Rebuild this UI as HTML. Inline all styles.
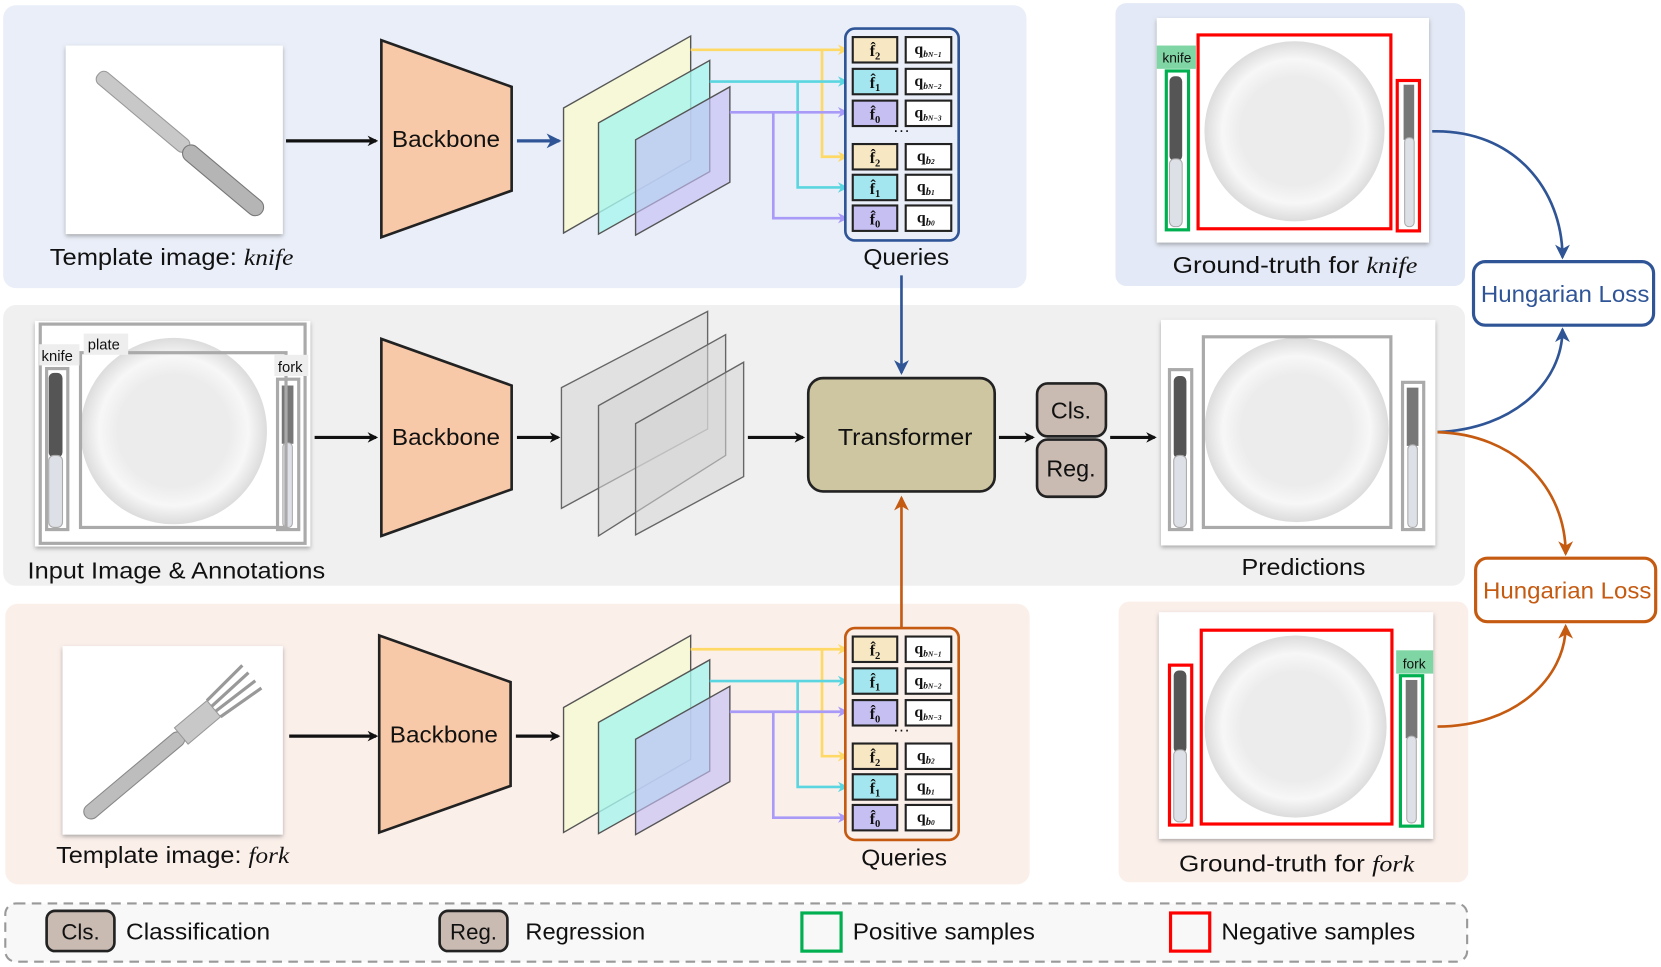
<!DOCTYPE html>
<html><head><meta charset="utf-8"><style>
html,body{margin:0;padding:0;background:#fff;}
svg{display:block;}
text{font-family:"Liberation Sans",sans-serif;fill:#111;}
.s{font-family:"Liberation Serif",serif;font-weight:bold;}
</style></head><body>
<svg width="1661" height="967" viewBox="0 0 1568 913" preserveAspectRatio="none" xmlns="http://www.w3.org/2000/svg">
<defs>
<marker id="ak" markerWidth="10" markerHeight="10" refX="8" refY="5" orient="auto" markerUnits="userSpaceOnUse"><path d="M0,0 L10,5 L0,10 L3,5z" fill="#111"/></marker>
<marker id="ab" markerWidth="14" markerHeight="14" refX="12" refY="7" orient="auto" markerUnits="userSpaceOnUse"><path d="M0,0 L14,7 L0,14 L4,7z" fill="#2f5597"/></marker>
<marker id="ao" markerWidth="14" markerHeight="14" refX="12" refY="7" orient="auto" markerUnits="userSpaceOnUse"><path d="M0,0 L14,7 L0,14 L4,7z" fill="#c55a11"/></marker>
<marker id="ay" markerWidth="10" markerHeight="10" refX="9" refY="5" orient="auto" markerUnits="userSpaceOnUse"><path d="M0,0 L10,5 L0,10 L3,5z" fill="#ffd966"/></marker>
<marker id="ac" markerWidth="10" markerHeight="10" refX="9" refY="5" orient="auto" markerUnits="userSpaceOnUse"><path d="M0,0 L10,5 L0,10 L3,5z" fill="#5bd6e0"/></marker>
<marker id="ap" markerWidth="10" markerHeight="10" refX="9" refY="5" orient="auto" markerUnits="userSpaceOnUse"><path d="M0,0 L10,5 L0,10 L3,5z" fill="#a99af7"/></marker>
<filter id="sh" x="-10%" y="-10%" width="120%" height="120%"><feDropShadow dx="0" dy="2" stdDeviation="2" flood-color="#777" flood-opacity="0.6"/></filter>
<radialGradient id="pg" cx="50%" cy="50%" r="50%"><stop offset="0.6" stop-color="#ececec"/><stop offset="0.8" stop-color="#f7f7f7"/><stop offset="1" stop-color="#dcdcdc"/></radialGradient>
</defs>

<!-- panels -->
<rect x="3" y="5" width="966" height="267" rx="12" fill="#e9eef8"/>
<rect x="1053" y="3" width="330" height="267" rx="10" fill="#e3e9f6"/>
<rect x="3" y="288" width="1380" height="265" rx="12" fill="#f0f0f0"/>
<rect x="5" y="570" width="967" height="265" rx="12" fill="#fbefea"/>
<rect x="1056" y="568" width="330" height="265" rx="10" fill="#fbefea"/>
<rect x="5" y="853" width="1380" height="55" rx="10" fill="#f8f8f8" stroke="#999" stroke-width="2" stroke-dasharray="9,6"/>

<!-- TOP ROW -->
<rect x="62" y="43" width="205" height="178" fill="#fff" filter="url(#sh)"/>
<g transform="translate(165,132) rotate(40)"><rect x="-95" y="-8" width="110" height="14" rx="6" fill="#c8c8c8" stroke="#999"/><rect x="12" y="-8" width="95" height="16" rx="8" fill="#b5b5b5" stroke="#777"/></g>
<text x="47" y="250" font-size="22" textLength="230" lengthAdjust="spacingAndGlyphs">Template image: <tspan font-family="Liberation Serif" font-style="italic">knife</tspan></text>
<line x1="270" y1="133" x2="355" y2="133" stroke="#111" stroke-width="3" marker-end="url(#ak)"/>
<polygon points="360,38 483,82 483,180 360,224" fill="#f8c9a8" stroke="#222" stroke-width="2.5"/>
<text x="370" y="139" font-size="22" textLength="102" lengthAdjust="spacingAndGlyphs">Backbone</text>
<line x1="488" y1="133" x2="528" y2="133" stroke="#2f5597" stroke-width="3" marker-end="url(#ab)"/>
<g stroke="#555" stroke-width="1.3">
<polygon points="532,102 652,34 652,151 532,220" fill="#f6f8d8"/>
<polygon points="565,116 670,57 670,162 565,221" fill="#a8f5ee" fill-opacity="0.8"/>
<polygon points="600,132 689,82 689,172 600,222" fill="#c4bff5" fill-opacity="0.65"/>
</g>
<g fill="none" stroke-width="2.5">
<path d="M652,47 H800" stroke="#ffd966" marker-end="url(#ay)"/><path d="M776,47 V148 H800" stroke="#ffd966" marker-end="url(#ay)"/>
<path d="M670,77 H800" stroke="#5bd6e0" marker-end="url(#ac)"/><path d="M753,77 V177 H800" stroke="#5bd6e0" marker-end="url(#ac)"/>
<path d="M689,106 H800" stroke="#a99af7" marker-end="url(#ap)"/><path d="M730,106 V206 H800" stroke="#a99af7" marker-end="url(#ap)"/>
</g>
<rect x="798" y="27" width="107" height="200" rx="9" fill="#eaeef8" stroke="#2f5597" stroke-width="2.5"/>
<g stroke="#222" stroke-width="2">
<rect x="805" y="35" width="42" height="24" fill="#f7e8c3"/><rect x="855" y="35" width="43" height="24" fill="#fff"/>
<rect x="805" y="65" width="42" height="24" fill="#a4e6ef"/><rect x="855" y="65" width="43" height="24" fill="#fff"/>
<rect x="805" y="95" width="42" height="24" fill="#c6bff2"/><rect x="855" y="95" width="43" height="24" fill="#fff"/>
<rect x="805" y="136" width="42" height="24" fill="#f7e8c3"/><rect x="855" y="136" width="43" height="24" fill="#fff"/>
<rect x="805" y="165" width="42" height="24" fill="#a4e6ef"/><rect x="855" y="165" width="43" height="24" fill="#fff"/>
<rect x="805" y="194" width="42" height="24" fill="#c6bff2"/><rect x="855" y="194" width="43" height="24" fill="#fff"/>
</g>
<g font-size="15" text-anchor="middle">
<text class="s" x="826" y="53">f̂<tspan font-size="10" dy="3">2</tspan></text>
<text class="s" x="826" y="83">f̂<tspan font-size="10" dy="3">1</tspan></text>
<text class="s" x="826" y="113">f̂<tspan font-size="10" dy="3">0</tspan></text>
<text class="s" x="826" y="154">f̂<tspan font-size="10" dy="3">2</tspan></text>
<text class="s" x="826" y="183">f̂<tspan font-size="10" dy="3">1</tspan></text>
<text class="s" x="826" y="212">f̂<tspan font-size="10" dy="3">0</tspan></text>
<text class="s" x="876" y="51">q<tspan font-size="9" dy="3" font-style="italic">b<tspan font-size="7">N−1</tspan></tspan></text>
<text class="s" x="876" y="81">q<tspan font-size="9" dy="3" font-style="italic">b<tspan font-size="7">N−2</tspan></tspan></text>
<text class="s" x="876" y="111">q<tspan font-size="9" dy="3" font-style="italic">b<tspan font-size="7">N−3</tspan></tspan></text>
<text class="s" x="874" y="152">q<tspan font-size="10" dy="3" font-style="italic">b<tspan font-size="7">2</tspan></tspan></text>
<text class="s" x="874" y="181">q<tspan font-size="10" dy="3" font-style="italic">b<tspan font-size="7">1</tspan></tspan></text>
<text class="s" x="874" y="210">q<tspan font-size="10" dy="3" font-style="italic">b<tspan font-size="7">0</tspan></tspan></text>
</g>
<text x="851" y="128" font-size="16" text-anchor="middle">···</text>
<text x="815" y="250" font-size="22" textLength="81" lengthAdjust="spacingAndGlyphs">Queries</text>
<line x1="851" y1="260" x2="851" y2="352" stroke="#2f5597" stroke-width="2.5" marker-end="url(#ab)"/>

<!-- GT knife -->
<rect x="1092" y="17" width="257" height="212" fill="#fff" filter="url(#sh)"/>
<circle cx="1222" cy="124" r="85" fill="url(#pg)"/>
<rect x="1104" y="72" width="12" height="80" rx="5" fill="#555"/><rect x="1104" y="150" width="12" height="64" rx="5" fill="#dde0e6" stroke="#aaa"/>
<rect x="1325" y="80" width="10" height="52" fill="#777"/><rect x="1326" y="130" width="9" height="84" rx="4" fill="#dde0e6" stroke="#aaa"/>
<rect x="1131" y="33" width="182" height="183" fill="none" stroke="#f00" stroke-width="3"/>
<rect x="1319" y="76" width="21" height="142" fill="none" stroke="#f00" stroke-width="3"/>
<rect x="1092" y="43" width="37" height="22" fill="#7fd6a4"/><text x="1111" y="59" font-size="13" text-anchor="middle">knife</text>
<rect x="1101" y="67" width="21" height="150" fill="none" stroke="#00b050" stroke-width="3"/>
<text x="1107" y="258" font-size="22" textLength="231" lengthAdjust="spacingAndGlyphs">Ground-truth for <tspan font-family="Liberation Serif" font-style="italic">knife</tspan></text>

<!-- MIDDLE ROW -->
<rect x="33" y="303" width="260" height="213" fill="#fff" filter="url(#sh)"/>
<circle cx="164" cy="407" r="88" fill="url(#pg)"/>
<rect x="46" y="352" width="13" height="80" rx="5" fill="#555"/><rect x="46" y="430" width="13" height="68" rx="5" fill="#dde0e6" stroke="#aaa"/>
<rect x="266" y="364" width="11" height="55" fill="#777"/><rect x="267" y="418" width="9" height="80" rx="4" fill="#dde0e6" stroke="#aaa"/>
<g fill="none" stroke="#aaa" stroke-width="3">
<rect x="38" y="306" width="250" height="207"/>
<rect x="76" y="333" width="194" height="165"/>
<rect x="44" y="348" width="20" height="152"/>
<rect x="262" y="358" width="20" height="142"/>
</g>
<rect x="79" y="315" width="42" height="20" fill="#eee"/><text x="98" y="330" font-size="14" text-anchor="middle">plate</text>
<rect x="37" y="325" width="38" height="20" fill="#eee"/><text x="54" y="341" font-size="14" text-anchor="middle">knife</text>
<rect x="259" y="335" width="32" height="20" fill="#eee"/><text x="274" y="351" font-size="14" text-anchor="middle">fork</text>
<text x="26" y="546" font-size="22" textLength="281" lengthAdjust="spacingAndGlyphs">Input Image &amp; Annotations</text>
<line x1="297" y1="413" x2="355" y2="413" stroke="#111" stroke-width="3" marker-end="url(#ak)"/>
<polygon points="360,320 483,364 483,462 360,506" fill="#f8c9a8" stroke="#222" stroke-width="2.5"/>
<text x="370" y="420" font-size="22" textLength="102" lengthAdjust="spacingAndGlyphs">Backbone</text>
<line x1="488" y1="413" x2="527" y2="413" stroke="#111" stroke-width="3" marker-end="url(#ak)"/>
<g stroke="#666" stroke-width="1.3" fill="#d6d6d6" fill-opacity="0.55">
<polygon points="530,366 668,294 668,405 530,480"/>
<polygon points="565,383 685,316 685,430 565,506"/>
<polygon points="600,400 702,342 702,450 600,505"/>
</g>
<line x1="706" y1="413" x2="758" y2="413" stroke="#111" stroke-width="3" marker-end="url(#ak)"/>
<rect x="763" y="357" width="176" height="107" rx="14" fill="#cdc6a0" stroke="#222" stroke-width="2.5"/>
<text x="791" y="420" font-size="22" textLength="127" lengthAdjust="spacingAndGlyphs">Transformer</text>
<line x1="943" y1="413" x2="975" y2="413" stroke="#111" stroke-width="3" marker-end="url(#ak)"/>
<rect x="979" y="362" width="65" height="50" rx="10" fill="#c9bab2" stroke="#222" stroke-width="2.5"/>
<text x="1011" y="395" font-size="22" text-anchor="middle">Cls.</text>
<rect x="979" y="415" width="65" height="54" rx="10" fill="#c9bab2" stroke="#222" stroke-width="2.5"/>
<text x="1011" y="450" font-size="22" text-anchor="middle">Reg.</text>
<line x1="1048" y1="413" x2="1090" y2="413" stroke="#111" stroke-width="3" marker-end="url(#ak)"/>
<rect x="1096" y="302" width="259" height="213" fill="#fff" filter="url(#sh)"/>
<circle cx="1224" cy="406" r="87" fill="url(#pg)"/>
<rect x="1108" y="355" width="12" height="78" rx="5" fill="#555"/><rect x="1108" y="430" width="12" height="68" rx="5" fill="#dde0e6" stroke="#aaa"/>
<rect x="1328" y="366" width="11" height="55" fill="#777"/><rect x="1329" y="420" width="9" height="78" rx="4" fill="#dde0e6" stroke="#aaa"/>
<g fill="none" stroke="#aaa" stroke-width="3">
<rect x="1136" y="318" width="177" height="180"/>
<rect x="1104" y="349" width="21" height="151"/>
<rect x="1324" y="361" width="20" height="139"/>
</g>
<text x="1172" y="543" font-size="22" textLength="117" lengthAdjust="spacingAndGlyphs">Predictions</text>
<line x1="851" y1="595" x2="851" y2="470" stroke="#c55a11" stroke-width="2.5" marker-end="url(#ao)"/>

<!-- Hungarian -->
<rect x="1391" y="247" width="170" height="60" rx="11" fill="#fff" stroke="#2f5597" stroke-width="3"/>
<text x="1398" y="285" font-size="22" textLength="159" lengthAdjust="spacingAndGlyphs" style="fill:#2f5597">Hungarian Loss</text>
<rect x="1393" y="527" width="170" height="60" rx="11" fill="#fff" stroke="#c55a11" stroke-width="3"/>
<text x="1400" y="565" font-size="22" textLength="159" lengthAdjust="spacingAndGlyphs" style="fill:#c55a11">Hungarian Loss</text>
<g fill="none" stroke-width="2.5">
<path d="M1352,124 C1430,122 1475,180 1475,243" stroke="#2f5597" marker-end="url(#ab)"/>
<path d="M1357,408 C1430,405 1475,360 1475,311" stroke="#2f5597" marker-end="url(#ab)"/>
<path d="M1357,408 C1430,410 1478,460 1478,523" stroke="#c55a11" marker-end="url(#ao)"/>
<path d="M1357,686 C1430,686 1478,640 1478,591" stroke="#c55a11" marker-end="url(#ao)"/>
</g>

<!-- BOTTOM ROW -->
<rect x="59" y="610" width="208" height="178" fill="#fff" filter="url(#sh)"/>
<g transform="translate(165,700) rotate(-40)"><rect x="-110" y="-7" width="120" height="14" rx="7" fill="#bdbdbd" stroke="#888"/><rect x="8" y="-10" width="40" height="20" fill="#c8c8c8" stroke="#999"/><path d="M48,-10 L95,-14 M48,-3 L95,-5 M48,3 L95,5 M48,10 L95,14" stroke="#999" stroke-width="3"/></g>
<text x="53" y="815" font-size="22" textLength="220" lengthAdjust="spacingAndGlyphs">Template image: <tspan font-family="Liberation Serif" font-style="italic">fork</tspan></text>
<line x1="273" y1="695" x2="355" y2="695" stroke="#111" stroke-width="3" marker-end="url(#ak)"/>
<polygon points="358,600 482,644 482,742 358,786" fill="#f8c9a8" stroke="#222" stroke-width="2.5"/>
<text x="368" y="701" font-size="22" textLength="102" lengthAdjust="spacingAndGlyphs">Backbone</text>
<line x1="487" y1="695" x2="527" y2="695" stroke="#111" stroke-width="3" marker-end="url(#ak)"/>
<g transform="translate(0,566)">
<g stroke="#555" stroke-width="1.3">
<polygon points="532,102 652,34 652,151 532,220" fill="#f6f8d8"/>
<polygon points="565,116 670,57 670,162 565,221" fill="#a8f5ee" fill-opacity="0.8"/>
<polygon points="600,132 689,82 689,172 600,222" fill="#c4bff5" fill-opacity="0.65"/>
</g>
<g fill="none" stroke-width="2.5">
<path d="M652,47 H800" stroke="#ffd966" marker-end="url(#ay)"/><path d="M776,47 V148 H800" stroke="#ffd966" marker-end="url(#ay)"/>
<path d="M670,77 H800" stroke="#5bd6e0" marker-end="url(#ac)"/><path d="M753,77 V177 H800" stroke="#5bd6e0" marker-end="url(#ac)"/>
<path d="M689,106 H800" stroke="#a99af7" marker-end="url(#ap)"/><path d="M730,106 V206 H800" stroke="#a99af7" marker-end="url(#ap)"/>
</g>
<rect x="798" y="27" width="107" height="200" rx="9" fill="#fbefea" stroke="#c55a11" stroke-width="2.5"/>
<g stroke="#222" stroke-width="2">
<rect x="805" y="35" width="42" height="24" fill="#f7e8c3"/><rect x="855" y="35" width="43" height="24" fill="#fff"/>
<rect x="805" y="65" width="42" height="24" fill="#a4e6ef"/><rect x="855" y="65" width="43" height="24" fill="#fff"/>
<rect x="805" y="95" width="42" height="24" fill="#c6bff2"/><rect x="855" y="95" width="43" height="24" fill="#fff"/>
<rect x="805" y="136" width="42" height="24" fill="#f7e8c3"/><rect x="855" y="136" width="43" height="24" fill="#fff"/>
<rect x="805" y="165" width="42" height="24" fill="#a4e6ef"/><rect x="855" y="165" width="43" height="24" fill="#fff"/>
<rect x="805" y="194" width="42" height="24" fill="#c6bff2"/><rect x="855" y="194" width="43" height="24" fill="#fff"/>
</g>
<g font-size="15" text-anchor="middle">
<text class="s" x="826" y="53">f̂<tspan font-size="10" dy="3">2</tspan></text>
<text class="s" x="826" y="83">f̂<tspan font-size="10" dy="3">1</tspan></text>
<text class="s" x="826" y="113">f̂<tspan font-size="10" dy="3">0</tspan></text>
<text class="s" x="826" y="154">f̂<tspan font-size="10" dy="3">2</tspan></text>
<text class="s" x="826" y="183">f̂<tspan font-size="10" dy="3">1</tspan></text>
<text class="s" x="826" y="212">f̂<tspan font-size="10" dy="3">0</tspan></text>
<text class="s" x="876" y="51">q<tspan font-size="9" dy="3" font-style="italic">b<tspan font-size="7">N−1</tspan></tspan></text>
<text class="s" x="876" y="81">q<tspan font-size="9" dy="3" font-style="italic">b<tspan font-size="7">N−2</tspan></tspan></text>
<text class="s" x="876" y="111">q<tspan font-size="9" dy="3" font-style="italic">b<tspan font-size="7">N−3</tspan></tspan></text>
<text class="s" x="874" y="152">q<tspan font-size="10" dy="3" font-style="italic">b<tspan font-size="7">2</tspan></tspan></text>
<text class="s" x="874" y="181">q<tspan font-size="10" dy="3" font-style="italic">b<tspan font-size="7">1</tspan></tspan></text>
<text class="s" x="874" y="210">q<tspan font-size="10" dy="3" font-style="italic">b<tspan font-size="7">0</tspan></tspan></text>
</g>
<text x="851" y="128" font-size="16" text-anchor="middle">···</text>
</g>
<text x="813" y="817" font-size="22" textLength="81" lengthAdjust="spacingAndGlyphs">Queries</text>

<!-- GT fork -->
<rect x="1094" y="578" width="259" height="214" fill="#fff" filter="url(#sh)"/>
<circle cx="1223" cy="686" r="86" fill="url(#pg)"/>
<rect x="1108" y="633" width="12" height="78" rx="5" fill="#555"/><rect x="1108" y="708" width="12" height="68" rx="5" fill="#dde0e6" stroke="#aaa"/>
<rect x="1327" y="642" width="11" height="55" fill="#777"/><rect x="1328" y="695" width="9" height="82" rx="4" fill="#dde0e6" stroke="#aaa"/>
<rect x="1134" y="595" width="180" height="183" fill="none" stroke="#f00" stroke-width="3"/>
<rect x="1104" y="628" width="21" height="151" fill="none" stroke="#f00" stroke-width="3"/>
<rect x="1318" y="614" width="35" height="22" fill="#7fd6a4"/><text x="1335" y="631" font-size="13" text-anchor="middle">fork</text>
<rect x="1322" y="638" width="21" height="142" fill="none" stroke="#00b050" stroke-width="3"/>
<text x="1113" y="823" font-size="22" textLength="222" lengthAdjust="spacingAndGlyphs">Ground-truth for <tspan font-family="Liberation Serif" font-style="italic">fork</tspan></text>

<!-- LEGEND -->
<rect x="44" y="860" width="64" height="38" rx="8" fill="#c9bab2" stroke="#222" stroke-width="2.5"/>
<text x="76" y="887" font-size="21" text-anchor="middle">Cls.</text>
<text x="119" y="887" font-size="22" textLength="136" lengthAdjust="spacingAndGlyphs">Classification</text>
<rect x="415" y="860" width="64" height="38" rx="8" fill="#c9bab2" stroke="#222" stroke-width="2.5"/>
<text x="447" y="887" font-size="21" text-anchor="middle">Reg.</text>
<text x="496" y="887" font-size="22" textLength="113" lengthAdjust="spacingAndGlyphs">Regression</text>
<rect x="757" y="862" width="37" height="36" fill="none" stroke="#00b050" stroke-width="3"/>
<text x="805" y="887" font-size="22" textLength="172" lengthAdjust="spacingAndGlyphs">Positive samples</text>
<rect x="1105" y="862" width="37" height="36" fill="none" stroke="#f00" stroke-width="3"/>
<text x="1153" y="887" font-size="22" textLength="183" lengthAdjust="spacingAndGlyphs">Negative samples</text>
</svg>
</body></html>
